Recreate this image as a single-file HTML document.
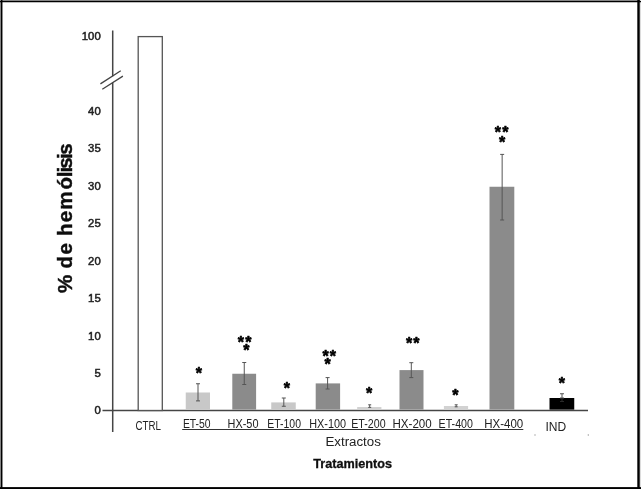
<!DOCTYPE html>
<html lang="es"><head><meta charset="utf-8"><title>Hemólisis</title>
<style>
html,body{margin:0;padding:0;background:#fff;}
body{width:641px;height:489px;overflow:hidden;}
svg{display:block;font-family:"Liberation Sans", sans-serif;}
</style></head><body>
<svg width="641" height="489" viewBox="0 0 641 489">
<defs><filter id="soft" x="0" y="0" width="641" height="489" filterUnits="userSpaceOnUse"><feGaussianBlur stdDeviation="0.4"/></filter></defs>
<rect x="0" y="0" width="641" height="489" fill="#fff"/>
<g id="frame">
<rect x="0" y="0" width="641" height="1" fill="#858585"/>
<rect x="0" y="0" width="1" height="489" fill="#858585"/>
<rect x="640" y="0" width="1" height="489" fill="#dcdcdc"/>
<rect x="0" y="1" width="641" height="1.25" fill="#000"/>
<rect x="1" y="0" width="1.45" height="489" fill="#000"/>
<rect x="637.3" y="0" width="2.45" height="489" fill="#000"/>
<rect x="0" y="487.1" width="641" height="1.9" fill="#000"/>
</g>
<g id="chart" filter="url(#soft)">
<g id="axes" stroke="#444" stroke-width="1.4" fill="none">
<path d="M112.7 30.5V76.2M112.7 82.5V432" stroke="#444" stroke-width="1.5"/>
<line x1="102.5" y1="410.5" x2="588" y2="410.5"/>
<path d="M100.4 83.9L120.75 70.75M102.3 89.2L122.9 76.1" stroke-width="1.3"/>
</g>
<g id="yticks" font-size="11.3" fill="#222" stroke="#222" stroke-width="0.5" text-anchor="end">
<text x="100.7" y="40.00">100</text>
<text x="100.7" y="114.75">40</text>
<text x="100.7" y="152.25">35</text>
<text x="100.7" y="189.75">30</text>
<text x="100.7" y="227.00">25</text>
<text x="100.7" y="264.50">20</text>
<text x="100.7" y="302.00">15</text>
<text x="100.7" y="339.50">10</text>
<text x="100.7" y="376.50">5</text>
<text x="100.7" y="414.00">0</text>
</g>
<text id="ylabel" transform="translate(71.7 292.6) rotate(-90)" font-size="20.5" font-weight="bold" fill="#111" stroke="#111" stroke-width="0.4" x="-0.5 11.85 24.19 38.15 47.36 56.56 70.3 82.9 103.14 115.31 120.01 123.96 133.51 137.86" y="0">% de hemólisis</text>
<g id="bars">
<rect x="138.2" y="36.6" width="24.1" height="373.9" fill="#fff" stroke="#555" stroke-width="1.3"/>
<rect x="185.75" y="392.50" width="24.25" height="17.10" fill="#c8c8c8"/>
<rect x="232.30" y="373.75" width="23.80" height="35.85" fill="#8b8b8b"/>
<rect x="271.25" y="402.40" width="24.50" height="7.20" fill="#c8c8c8"/>
<rect x="315.70" y="383.40" width="24.40" height="26.20" fill="#8b8b8b"/>
<rect x="357.20" y="407.00" width="24.20" height="2.60" fill="#d2d2d2"/>
<rect x="399.50" y="370.10" width="24.00" height="39.50" fill="#8b8b8b"/>
<rect x="443.90" y="406.00" width="24.20" height="3.60" fill="#d2d2d2"/>
<rect x="489.50" y="186.75" width="24.80" height="222.85" fill="#8b8b8b"/>
<rect x="549.50" y="398.00" width="24.75" height="11.60" fill="#000"/>
</g>
<g id="errs" stroke="#555" stroke-width="1" fill="none">
<path d="M198.00 383.75V400.90M196.00 383.75h4M196.00 400.90h4"/>
<path d="M244.25 362.50V384.50M242.25 362.50h4M242.25 384.50h4"/>
<path d="M283.80 398.00V406.25M281.80 398.00h4M281.80 406.25h4"/>
<path d="M327.60 377.60V389.00M325.60 377.60h4M325.60 389.00h4"/>
<path d="M369.70 404.80V407.40M368.20 404.80h3M368.20 407.40h3"/>
<path d="M411.30 362.70V377.60M409.30 362.70h4M409.30 377.60h4"/>
<path d="M456.20 404.80V406.80M454.70 404.80h3M454.70 406.80h3"/>
<path d="M502.15 154.40V220.00M500.15 154.40h4M500.15 220.00h4"/>
<path d="M562.00 393.75V398.00M560.00 393.75h4M560.00 398.00h4"/>
<path d="M562 398V401.5M560 401.5h4" stroke="#2a2a2a"/>
</g>
<g id="stars" font-size="16" font-weight="bold" fill="#000" stroke="#000" stroke-width="0.6" stroke-linejoin="round" text-anchor="middle">
<text x="198.75" y="378.80">*</text>
<text x="240.90" y="347.70">*</text>
<text x="248.40" y="347.70">*</text>
<text x="246.40" y="356.10">*</text>
<text x="286.80" y="393.80">*</text>
<text x="325.60" y="361.50">*</text>
<text x="332.90" y="361.50">*</text>
<text x="327.60" y="370.30">*</text>
<text x="369.10" y="398.80">*</text>
<text x="409.10" y="349.00">*</text>
<text x="416.30" y="349.00">*</text>
<text x="455.40" y="401.10">*</text>
<text x="497.90" y="138.10">*</text>
<text x="505.40" y="138.10">*</text>
<text x="502.10" y="148.20">*</text>
<text x="561.75" y="388.80">*</text>
</g>
<g id="xlabels" font-size="12.3" fill="#222">
<text x="135.50" y="430.10" textLength="25.50" lengthAdjust="spacingAndGlyphs">CTRL</text>
<text x="182.90" y="427.90" textLength="27.70" lengthAdjust="spacingAndGlyphs">ET-50</text>
<text x="227.60" y="427.90" textLength="30.90" lengthAdjust="spacingAndGlyphs">HX-50</text>
<text x="267.30" y="427.90" textLength="33.70" lengthAdjust="spacingAndGlyphs">ET-100</text>
<text x="309.20" y="427.90" textLength="36.80" lengthAdjust="spacingAndGlyphs">HX-100</text>
<text x="351.25" y="427.90" textLength="34.35" lengthAdjust="spacingAndGlyphs">ET-200</text>
<text x="392.50" y="427.90" textLength="39.25" lengthAdjust="spacingAndGlyphs">HX-200</text>
<text x="438.60" y="427.90" textLength="34.30" lengthAdjust="spacingAndGlyphs">ET-400</text>
<text x="484.25" y="427.90" textLength="39.00" lengthAdjust="spacingAndGlyphs">HX-400</text>
<text x="545.50" y="431.00" textLength="20.75" lengthAdjust="spacingAndGlyphs">IND</text>
</g>
<line x1="182.2" y1="429.5" x2="523.3" y2="429.5" stroke="#333" stroke-width="1"/>
<text x="325.4" y="446.2" font-size="12.5" fill="#222" textLength="55.5" lengthAdjust="spacingAndGlyphs">Extractos</text>
<text x="313.3" y="468.2" font-size="12" font-weight="bold" fill="#111" stroke="#111" stroke-width="0.3" textLength="78.8" lengthAdjust="spacingAndGlyphs">Tratamientos</text>
<circle cx="535" cy="435" r="0.7" fill="#999"/>
<circle cx="588.3" cy="435" r="0.7" fill="#999"/>
</g>
</svg>
</body></html>
